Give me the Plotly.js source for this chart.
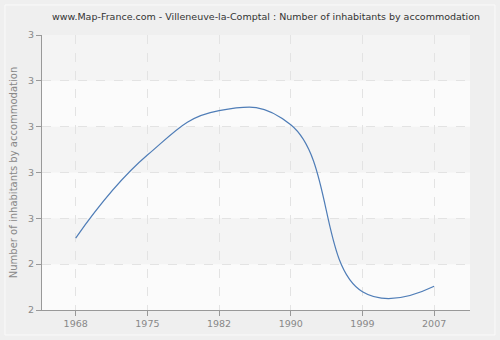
<!DOCTYPE html>
<html><head><meta charset="utf-8">
<script src="https://cdn.plot.ly/plotly-3.0.1.min.js"></script>
<style>html,body{margin:0;padding:0;background:#fff}#c{width:500px;height:340px}</style>
</head><body><div id="c"></div>
<script>
const years = ['1968','1975','1982','1990','1999','2007'];
const inhabitants = [2.557, 2.738, 2.835, 2.804, 2.44, 2.452];
const yTickVals = [2.4, 2.5, 2.6, 2.7, 2.8, 2.9, 3.0];
const yTickText = ['2','2','3','3','3','3','3'];

const L=42, R=30, T=35, B=30, W=500, H=340;
const pw=W-L-R, ph=H-T-B;
const px = v => (v-L)/pw;
const py = v => (H-B-v)/ph;

const shapes = [];
shapes.push({type:'rect', xref:'paper', yref:'paper', x0:px(5), x1:px(495), y0:py(335), y1:py(5),
  line:{color:'#fafafa', width:1}, fillcolor:'rgba(0,0,0,0)', layer:'below'});
for (let i=1;i<yTickVals.length-1;i+=2){
  shapes.push({type:'rect', xref:'paper', yref:'y', x0:0, x1:1, y0:yTickVals[i], y1:yTickVals[i+1],
    fillcolor:'#f4f4f4', line:{width:0}, layer:'below'});
}

const trace = {x:years, y:inhabitants, type:'scatter', mode:'lines',
  line:{color:'#4f7db7', width:1.2, shape:'spline', smoothing:1.3}, hoverinfo:'skip'};

const layout = {
  width:W, height:H, margin:{l:L,r:R,t:T,b:B},
  paper_bgcolor:'#efefef', plot_bgcolor:'#fbfbfb',
  font:{family:'"DejaVu Sans", sans-serif', size:10, color:'#888'},
  title:{text:'www.Map-France.com - Villeneuve-la-Comptal : Number of inhabitants by accommodation',
    x:0.532, xanchor:'center', y:0.95, yanchor:'middle', font:{size:9.5, color:'#333'}},
  xaxis:{type:'category', range:[-0.47, 5.5], showgrid:true, gridcolor:'#e3e3e3', griddash:'dash',
    ticks:'outside', ticklen:5, tickcolor:'#999', showline:true, linecolor:'#999', zeroline:false,
    tickfont:{size:9.5, color:'#888'}},
  yaxis:{range:[2.4, 3.0], tickvals:yTickVals, ticktext:yTickText, showgrid:true, gridcolor:'#e3e3e3', griddash:'dash',
    ticks:'outside', ticklen:5, tickcolor:'#999', showline:true, linecolor:'#999', zeroline:false,
    tickfont:{size:9.5, color:'#888'},
    title:{text:'Number of inhabitants by accommodation', font:{size:10, color:'#888'}, standoff:8}},
  shapes:shapes, showlegend:false
};
Plotly.newPlot('c',[trace],layout,{displayModeBar:false, staticPlot:true});
</script></body></html>
